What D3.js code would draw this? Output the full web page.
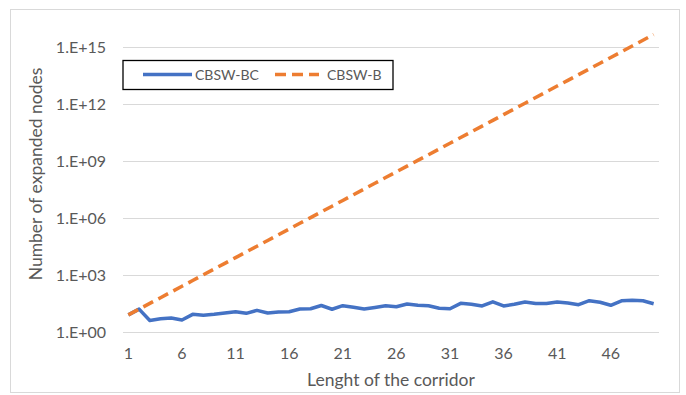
<!DOCTYPE html>
<html>
<head>
<meta charset="utf-8">
<script src="https://cdn.jsdelivr.net/npm/d3@7"></script>
<style>
  html, body { margin: 0; padding: 0; background: #fff; }
  svg { display: block; font-family: Lato, "Open Sans", sans-serif; }
</style>
</head>
<body>
<svg id="chart" width="686" height="395"></svg>
<script>
// Corridor lengths 1..50
const corridorLengths = [
  1, 2, 3, 4, 5, 6, 7, 8, 9, 10,
  11, 12, 13, 14, 15, 16, 17, 18, 19, 20,
  21, 22, 23, 24, 25, 26, 27, 28, 29, 30,
  31, 32, 33, 34, 35, 36, 37, 38, 39, 40,
  41, 42, 43, 44, 45, 46, 47, 48, 49, 50
];

// Expanded nodes, CBSW-BC
const cbswBC = [
  8, 16, 4, 5, 5.5, 4.3, 8.5, 7.6, 8.5, 10,
  11.7, 9.6, 13.8, 10, 11.3, 11.7, 16.2, 16.8, 24.8, 15.8,
  24.2, 20, 16.2, 19.5, 24, 21.5, 29.7, 25.4, 24, 17.7,
  16.8, 32.3, 28.7, 23.4, 39, 23.4, 28.7, 37.9, 32, 32,
  38, 33.6, 27.3, 44.3, 36.6, 25.4, 44, 46.6, 44, 30.9
];

// Expanded nodes, CBSW-B
const cbswB = [
  8, 16, 32, 64, 128, 256, 512, 1024, 2048, 4096,
  8192, 16384, 32768, 65536, 131072, 262144, 524288, 1048576, 2097152, 4194304,
  8388608, 16777216, 33554432, 67108864, 134217728, 268435456, 536870912, 1073741824, 2147483648, 4294967296,
  8589934592, 17179869184, 34359738368, 68719476736, 137438953472, 274877906944, 549755813888, 1099511627776, 2199023255552, 4398046511104,
  8796093022208, 17592186044416, 35184372088832, 70368744177664, 140737488355328, 281474976710656, 562949953421312, 1125899906842624, 2251799813685248, 4503599627370496
];

const xTickLabels = [1, 6, 11, 16, 21, 26, 31, 36, 41, 46];
const yTickValues = [1, 1e3, 1e6, 1e9, 1e12, 1e15];
const seriesNames = ["CBSW-BC", "CBSW-B"];

const svg = d3.select("#chart");
const textColor = "#595959";
const gridColor = "#d9d9d9";
const blue = "#4472C4";
const orange = "#ED7D31";

// Outer frame
svg.append("rect")
  .attr("x", 10.5).attr("y", 9.5)
  .attr("width", 669).attr("height", 383)
  .attr("fill", "#fff").attr("stroke", gridColor).attr("stroke-width", 1);

const x = d3.scaleBand().domain(corridorLengths).range([123, 659]).padding(0);
const y = d3.scaleLog().domain([1, 1e15]).range([332, 47]);
const cx = d => x(d) + x.bandwidth() / 2;

const fmtExp = v => {
  const e = Math.round(Math.log10(v));
  return "1.E+" + String(e).padStart(2, "0");
};

// Horizontal gridlines
svg.append("g")
  .selectAll("line")
  .data(yTickValues)
  .join("line")
  .attr("x1", 123).attr("x2", 659)
  .attr("y1", d => Math.round(y(d)) + 0.5)
  .attr("y2", d => Math.round(y(d)) + 0.5)
  .attr("stroke", gridColor).attr("stroke-width", 1.2);

// Y axis labels
const yAxis = d3.axisLeft(y).tickValues(yTickValues).tickFormat(fmtExp).tickSize(0).tickPadding(0);
const yG = svg.append("g").attr("transform", "translate(106,0)").call(yAxis);
yG.select(".domain").remove();
yG.selectAll("text")
  .attr("fill", textColor)
  .style("font-size", "16px")
  .style("font-family", "Lato, sans-serif");

// X axis labels
const xAxis = d3.axisBottom(x).tickValues(xTickLabels).tickSize(0).tickPadding(0);
const xG = svg.append("g").attr("transform", "translate(0,348)").call(xAxis);
xG.select(".domain").remove();
xG.selectAll("text")
  .attr("fill", textColor)
  .style("font-size", "16px")
  .style("font-family", "Lato, sans-serif");

// Axis titles
svg.append("text")
  .attr("x", 391).attr("y", 386)
  .attr("text-anchor", "middle")
  .attr("fill", textColor)
  .style("font-size", "17.5px")
  .text("Lenght of the corridor");

svg.append("text")
  .attr("transform", "translate(42,174) rotate(-90)")
  .attr("text-anchor", "middle")
  .attr("fill", textColor)
  .style("font-size", "17.5px")
  .text("Number of expanded nodes");

// Series lines
const line = d3.line()
  .x((d, i) => cx(corridorLengths[i]))
  .y(d => y(d));

svg.append("path")
  .datum(cbswBC)
  .attr("d", line)
  .attr("fill", "none")
  .attr("stroke", blue)
  .attr("stroke-width", 3.5)
  .attr("stroke-linejoin", "round");

svg.append("path")
  .datum(cbswB)
  .attr("d", line)
  .attr("fill", "none")
  .attr("stroke", orange)
  .attr("stroke-width", 3.5)
  .attr("stroke-dasharray", "11,6");

// Legend
const legend = svg.append("g");
legend.append("rect")
  .attr("x", 123).attr("y", 60.5)
  .attr("width", 270).attr("height", 29)
  .attr("fill", "#fff").attr("stroke", "#000").attr("stroke-width", 1.3);

const legendItems = [
  { name: seriesNames[0], color: blue, dash: null, x0: 143, x1: 192, tx: 195 },
  { name: seriesNames[1], color: orange, dash: "11,6", x0: 275, x1: 319, tx: 327 }
];
legendItems.forEach(it => {
  legend.append("line")
    .attr("x1", it.x0).attr("x2", it.x1)
    .attr("y1", 74.5).attr("y2", 74.5)
    .attr("stroke", it.color).attr("stroke-width", 3.5)
    .attr("stroke-dasharray", it.dash);
  legend.append("text")
    .attr("x", it.tx).attr("y", 79.5)
    .attr("fill", textColor)
    .style("font-size", "14px")
    .text(it.name);
});
</script>
</body>
</html>
